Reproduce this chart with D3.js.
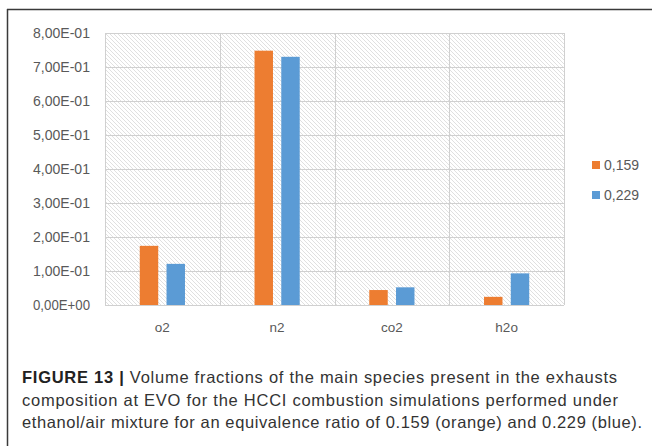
<!DOCTYPE html>
<html>
<head>
<meta charset="utf-8">
<script src="https://cdn.jsdelivr.net/npm/d3@7"></script>
<style>
  body { margin: 0; background: #fff; }
  svg { display: block; }
</style>
</head>
<body>
<div class="canvas"></div>
<script>
// data
const species = ['o2', 'n2', 'co2', 'h2o'];
const seriesNames = ['0,159', '0,229'];
const phi159 = [0.174, 0.748, 0.044, 0.024];
const phi229 = [0.121, 0.730, 0.052, 0.093];
const yTicks = [0, 0.1, 0.2, 0.3, 0.4, 0.5, 0.6, 0.7, 0.8];
const colours = ['#ED7D31', '#5B9BD5'];
const captionLines = [
  'Volume fractions of the main species present in the exhausts',
  'composition at EVO for the HCCI combustion simulations performed under',
  'ethanol/air mixture for an equivalence ratio of 0.159 (orange) and 0.229 (blue).'
];

const W = 652, H = 446;
const plot = { left: 105, right: 564, top: 33, bottom: 305 };

const svg = d3.select('.canvas')
  .append('svg')
  .attr('width', W)
  .attr('height', H);

// hatched background pattern
const pat = svg.append('defs').append('pattern')
  .attr('id', 'hatch')
  .attr('patternUnits', 'userSpaceOnUse')
  .attr('width', 4)
  .attr('height', 4);
pat.append('path')
  .attr('d', 'M-1,-1 L5,5 M-1,3 L1,5 M3,-1 L5,1')
  .attr('stroke', '#d8d8d8')
  .attr('stroke-width', 0.8);

// frame (top + left)
svg.append('line').attr('x1', 7).attr('x2', W).attr('y1', 9.5).attr('y2', 9.5)
  .attr('stroke', '#3a3a3a').attr('stroke-width', 1.5);
svg.append('line').attr('x1', 7.5).attr('x2', 7.5).attr('y1', 9).attr('y2', H)
  .attr('stroke', '#3a3a3a').attr('stroke-width', 1.5);

const x = d3.scaleBand()
  .domain(species)
  .range([plot.left, plot.right]);

const xInner = d3.scaleBand()
  .domain(seriesNames)
  .range([0, x.bandwidth()])
  .paddingInner(0.31)
  .paddingOuter(1.3);

const y = d3.scaleLinear()
  .domain([0, 0.8])
  .range([plot.bottom, plot.top]);

const colour = d3.scaleOrdinal(seriesNames, colours);

// plot area background
svg.append('rect')
  .attr('x', plot.left).attr('y', plot.top)
  .attr('width', plot.right - plot.left)
  .attr('height', plot.bottom - plot.top)
  .attr('fill', 'url(#hatch)');

// gridlines
svg.append('g')
  .attr('transform', `translate(${plot.left},0)`)
  .call(d3.axisLeft(y).tickValues(yTicks).tickSize(-(plot.right - plot.left)).tickFormat(''))
  .call(g => g.select('.domain').remove())
  .call(g => g.selectAll('line').attr('stroke', '#d0d0d0'));

const vlines = species.map(s => x(s)).concat([plot.right]);
svg.append('g').selectAll('line')
  .data(vlines)
  .join('line')
  .attr('x1', d => Math.round(d) + 0.5).attr('x2', d => Math.round(d) + 0.5)
  .attr('y1', plot.top).attr('y2', plot.bottom)
  .attr('stroke', '#d0d0d0');

// y labels
svg.append('g').selectAll('text')
  .data(yTicks)
  .join('text')
  .attr('x', 90)
  .attr('y', d => y(d) + 5)
  .attr('text-anchor', 'end')
  .attr('font-family', 'Liberation Sans, Arial, sans-serif')
  .attr('font-size', 14)
  .attr('fill', '#595959')
  .attr('textLength', 57)
  .attr('lengthAdjust', 'spacingAndGlyphs')
  .text(d => d3.format('.2e')(d).replace('.', ',').replace('e', 'E').replace(/E([+-])(\d)$/, 'E$10$2'));

// x labels
svg.append('g').selectAll('text')
  .data(species)
  .join('text')
  .attr('x', d => x(d) + x.bandwidth() / 2)
  .attr('y', 332)
  .attr('text-anchor', 'middle')
  .attr('font-family', 'Liberation Sans, Arial, sans-serif')
  .attr('font-size', 13.5)
  .attr('fill', '#595959')
  .text(d => d);

// bars
const rows = species.map((s, i) => ({ name: s, values: [phi159[i], phi229[i]] }));
svg.append('g').selectAll('g')
  .data(rows)
  .join('g')
  .attr('transform', d => `translate(${x(d.name)},0)`)
  .selectAll('rect')
  .data(d => d.values.map((v, j) => ({ key: seriesNames[j], value: v })))
  .join('rect')
  .attr('x', d => xInner(d.key))
  .attr('width', xInner.bandwidth())
  .attr('y', d => y(d.value))
  .attr('height', d => y(0) - y(d.value))
  .attr('fill', d => colour(d.key));

// legend
const legend = svg.append('g').selectAll('g')
  .data(seriesNames)
  .join('g')
  .attr('transform', (d, i) => `translate(592,${161 + i * 30})`);
legend.append('rect')
  .attr('width', 8).attr('height', 8)
  .attr('fill', d => colour(d));
legend.append('text')
  .attr('x', 12).attr('y', 9)
  .attr('font-family', 'Liberation Sans, Arial, sans-serif')
  .attr('font-size', 14)
  .attr('fill', '#595959')
  .text(d => d);

// caption
const cap = svg.append('g')
  .attr('font-family', 'Liberation Sans, Arial, sans-serif')
  .attr('font-size', 16.5)
  .attr('fill', '#333');
const first = cap.append('text').attr('x', 22).attr('y', 383);
first.append('tspan').attr('font-weight', 'bold').attr('fill', '#222').text('FIGURE 13 | ');
first.append('tspan').text(captionLines[0]);
cap.append('text').attr('x', 22).attr('y', 405.5).text(captionLines[1]);
cap.append('text').attr('x', 22).attr('y', 428).text(captionLines[2]);

// fit caption lines to the widths in the figure
const capEnds = [617, 618, 642];
cap.selectAll('text').each(function (d, i) {
  d3.select(this)
    .attr('textLength', capEnds[i] - 22)
    .attr('lengthAdjust', 'spacing');
});
</script>
</body>
</html>
